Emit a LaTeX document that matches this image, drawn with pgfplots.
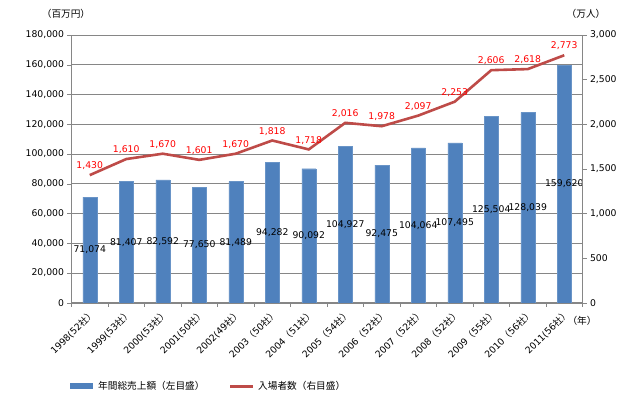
\documentclass[border=0pt]{standalone}
\usepackage{fontspec}
\setmainfont{DejaVu Sans}
\newfontfamily\jp{Noto Sans CJK JP}
\usepackage{pgfplots}
\usepackage{pgfplotstable}
\pgfplotsset{compat=1.18}
\definecolor{barblue}{HTML}{4F81BD}
\definecolor{linered}{HTML}{BE4B48}
\definecolor{gridgray}{HTML}{868686}
\definecolor{labred}{HTML}{FF0000}
\pgfplotstableread{
x v lab
0 71074 71,074
1 81407 81,407
2 82592 82,592
3 77650 77,650
4 81489 81,489
5 94282 94,282
6 90092 90,092
7 104927 104,927
8 92475 92,475
9 104064 104,064
10 107495 107,495
11 125504 125,504
12 128039 128,039
13 159620 159,620
}\bars
\pgfplotstableread{
x v lab
0 1430 1,430
1 1610 1,610
2 1670 1,670
3 1601 1,601
4 1670 1,670
5 1818 1,818
6 1718 1,718
7 2016 2,016
8 1978 1,978
9 2097 2,097
10 2253 2,253
11 2606 2,606
12 2618 2,618
13 2773 2,773
}\visitors
\newcommand{\ha}[1]{(#1{\jp 社）}}
\newcommand{\fw}[1]{{\jp （}#1{\jp 社）}}
\pgfplotsset{
  common/.style={
    at={(0,0)}, anchor=south west, scale only axis,
    width=511bp, height=267.75bp,
    xmin=-0.5, xmax=13.5,
    axis line style={gridgray},
    tick align=outside,
    major tick length=4bp, minor tick length=4bp,
    every tick/.style={gridgray},
    scaled y ticks=false,
    yticklabel style={/pgf/number format/.cd, fixed, 1000 sep={,}, assume math mode=true},
  }
}
\begin{document}
\begin{tikzpicture}[font=\fontsize{9.3}{11}\selectfont]
\path[use as bounding box] (-71.5bp,-97.25bp) rectangle (568.5bp,302.75bp);
\begin{axis}[common,
  ymin=0, ymax=180000,
  ytick={0,20000,...,180000},
  axis y line*=left, axis x line*=bottom,
  ymajorgrids, grid style={gridgray, line width=0.6bp},
  xtick={0,...,13},
  major x tick style={draw=none},
  minor xtick={-0.5,0.5,...,13.5},
  xticklabels={1998\ha{52},1999\ha{53},2000\ha{53},2001\ha{50},2002\ha{49},2003\fw{50},2004\fw{51},2005\fw{54},2006\fw{52},2007\fw{52},2008\fw{52},2009\fw{55},2010\fw{56},2011\ha{56}},
  x tick label style={rotate=45, anchor=north east, inner sep=1bp},
]
\addplot[ybar, bar width=14bp, fill=barblue, draw=barblue!85!white] table[x=x, y=v]{\bars};
\addplot[draw=none, mark=none, nodes near coords, point meta=explicit symbolic,
  nodes near coords style={anchor=center, text=black, inner sep=0pt}] table[x=x, y expr=\thisrow{v}/2, meta=lab]{\bars};
\end{axis}
\begin{axis}[common,
  ymin=0, ymax=3000,
  ytick={0,500,...,3000},
  axis y line*=right, axis x line=none,
  clip=false,
]
\addplot[linered, line width=2.6bp, mark=none, nodes near coords, point meta=explicit symbolic,
  nodes near coords style={anchor=south, text=labred, yshift=3bp, inner sep=1bp}] table[x=x, y=v, meta=lab]{\visitors};
\end{axis}
\node[font=\jp\fontsize{9.7}{11}\selectfont] at (-5.5bp,288.75bp) {（百万円）};
\node[font=\jp\fontsize{9.7}{11}\selectfont] at (514.5bp,288.75bp) {（万人）};
\node[font=\jp\fontsize{9.7}{11}\selectfont] at (510.5bp,-18.25bp) {（年）};
\fill[barblue] (-1.5bp,-86.25bp) rectangle (21.5bp,-80.25bp);
\node[anchor=west, inner sep=0pt, font=\jp\fontsize{9.7}{11}\selectfont] at (26.5bp,-83.25bp) {年間総売上額（左目盛）};
\draw[linered, line width=3bp] (158.5bp,-83.25bp) -- (181.5bp,-83.25bp);
\node[anchor=west, inner sep=0pt, font=\jp\fontsize{9.7}{11}\selectfont] at (186.5bp,-83.25bp) {入場者数（右目盛）};
\end{tikzpicture}
\end{document}
